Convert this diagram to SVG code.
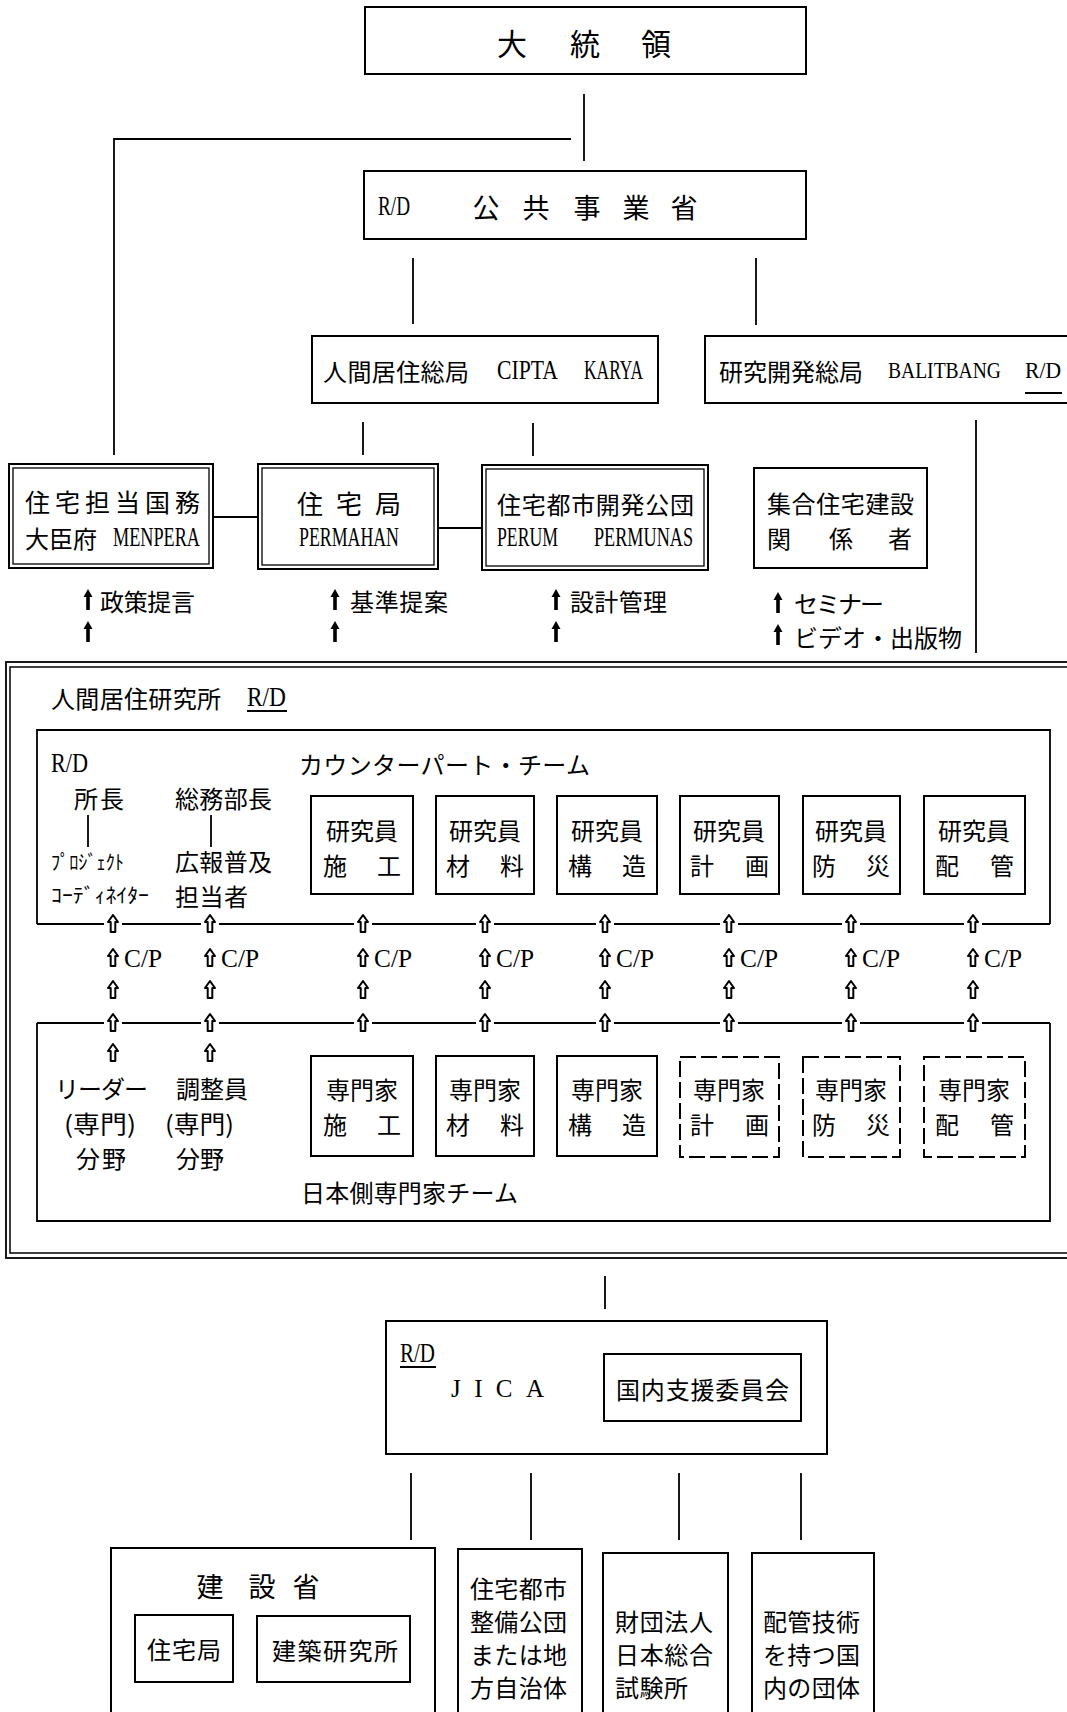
<svg xmlns="http://www.w3.org/2000/svg" xmlns:xlink="http://www.w3.org/1999/xlink" width="1067" height="1712" viewBox="0 0 1067 1712">
<style>
.box{fill:none;stroke:#000;stroke-width:2}
.in{fill:none;stroke:#000;stroke-width:1.3}
.dash{fill:none;stroke:#000;stroke-width:2;stroke-dasharray:16 5}
.ln{fill:none;stroke:#000;stroke-width:1.8}
.jp{font-family:"Noto Sans CJK JP",sans-serif;font-size:24px;fill:#000;dominant-baseline:central}
.lt{font-family:"Liberation Serif",serif;font-size:27px;fill:#000;dominant-baseline:central}
.cp{font-size:25px}
.sm{font-size:23px}
.mid{text-anchor:middle}
</style>
<defs>
<path id="ba" d="M0,-11 L4.5,-3 L1.8,-3 L1.8,10 L-1.8,10 L-1.8,-3 L-4.5,-3 Z" fill="#000"/>
<path id="wa" d="M0,-9 L5,-2 L2.3,-2 L2.3,8 L-2.3,8 L-2.3,-2 L-5,-2 Z" fill="#fff" stroke="#000" stroke-width="2" stroke-linejoin="round"/>
</defs>
<rect width="1067" height="1712" fill="#fff"/>

<g id="connectors">
<path class="ln" d="M584,94 V161 M571,139 H114 V455 M413,258 V324 M756,258 V325 M363,422 V455 M533,423 V456 M213,517 H258 M438,528 H482 M976,420 V653 M88,815 V847 M211,815 V847 M605,1276 V1309 M411,1473 V1540 M531,1473 V1540 M679,1473 V1540 M801,1473 V1540"/>
<use href="#ba" x="88" y="600"/><use href="#ba" x="88" y="632"/>
<use href="#ba" x="335" y="600"/><use href="#ba" x="335" y="632"/>
<use href="#ba" x="556" y="600"/><use href="#ba" x="556" y="632"/>
<use href="#ba" x="778" y="603"/><use href="#ba" x="778" y="635"/>
<path class="ln" d="M37,924 H104 M122,924 H201 M219,924 H354 M372,924 H476 M494,924 H596 M614,924 H720 M738,924 H842 M860,924 H964 M982,924 H1050"/>
<path class="ln" d="M37,1023 H104 M122,1023 H201 M219,1023 H354 M372,1023 H476 M494,1023 H596 M614,1023 H720 M738,1023 H842 M860,1023 H964 M982,1023 H1050"/>
<g id="cp-arrows">
<use href="#wa" x="113" y="924"/><use href="#wa" x="210" y="924"/><use href="#wa" x="363" y="924"/><use href="#wa" x="485" y="924"/><use href="#wa" x="605" y="924"/><use href="#wa" x="729" y="924"/><use href="#wa" x="851" y="924"/><use href="#wa" x="973" y="924"/>
<use href="#wa" x="113" y="958"/><use href="#wa" x="210" y="958"/><use href="#wa" x="363" y="958"/><use href="#wa" x="485" y="958"/><use href="#wa" x="605" y="958"/><use href="#wa" x="729" y="958"/><use href="#wa" x="851" y="958"/><use href="#wa" x="973" y="958"/>
<use href="#wa" x="113" y="990"/><use href="#wa" x="210" y="990"/><use href="#wa" x="363" y="990"/><use href="#wa" x="485" y="990"/><use href="#wa" x="605" y="990"/><use href="#wa" x="729" y="990"/><use href="#wa" x="851" y="990"/><use href="#wa" x="973" y="990"/>
<use href="#wa" x="113" y="1023"/><use href="#wa" x="210" y="1023"/><use href="#wa" x="363" y="1023"/><use href="#wa" x="485" y="1023"/><use href="#wa" x="605" y="1023"/><use href="#wa" x="729" y="1023"/><use href="#wa" x="851" y="1023"/><use href="#wa" x="973" y="1023"/>
<use href="#wa" x="113" y="1053"/><use href="#wa" x="210" y="1053"/>
</g>
<text class="lt cp" x="124" y="958" textLength="38" lengthAdjust="spacingAndGlyphs">C/P</text>
<text class="lt cp" x="221" y="958" textLength="38" lengthAdjust="spacingAndGlyphs">C/P</text>
<text class="lt cp" x="374" y="958" textLength="38" lengthAdjust="spacingAndGlyphs">C/P</text>
<text class="lt cp" x="496" y="958" textLength="38" lengthAdjust="spacingAndGlyphs">C/P</text>
<text class="lt cp" x="616" y="958" textLength="38" lengthAdjust="spacingAndGlyphs">C/P</text>
<text class="lt cp" x="740" y="958" textLength="38" lengthAdjust="spacingAndGlyphs">C/P</text>
<text class="lt cp" x="862" y="958" textLength="38" lengthAdjust="spacingAndGlyphs">C/P</text>
<text class="lt cp" x="984" y="958" textLength="38" lengthAdjust="spacingAndGlyphs">C/P</text>
<text class="jp" x="100" y="600" textLength="95">政策提言</text>
<text class="jp" x="350" y="600" textLength="98">基準提案</text>
<text class="jp" x="570" y="600" textLength="97">設計管理</text>
<text class="jp" x="794" y="602" textLength="90" lengthAdjust="spacing">セミナー</text>
<text class="jp" x="794" y="636" textLength="168">ビデオ・出版物</text>
</g>

<g id="president">
<rect class="box" x="365" y="7" width="441" height="67"/>
<text class="jp mid" style="font-size:30px" x="512 585 656" y="42">大統領</text>
</g>

<g id="public-works">
<rect class="box" x="364" y="171" width="442" height="68"/>
<text class="lt" x="378" y="206" textLength="32" lengthAdjust="spacingAndGlyphs">R/D</text>
<text class="jp mid" style="font-size:27px" x="486 536 587 636 684" y="206">公共事業省</text>
</g>

<g id="cipta-karya">
<rect class="box" x="312" y="336" width="346" height="67"/>
<text class="jp" x="323" y="370" textLength="146">人間居住総局</text>
<text class="lt" x="497" y="370" textLength="61" lengthAdjust="spacingAndGlyphs">CIPTA</text>
<text class="lt" x="584" y="370" textLength="59" lengthAdjust="spacingAndGlyphs">KARYA</text>
</g>

<g id="balitbang">
<rect class="box" x="705" y="336" width="380" height="67"/>
<text class="jp" x="719" y="370" textLength="144">研究開発総局</text>
<text class="lt sm" x="888" y="370" textLength="113" lengthAdjust="spacingAndGlyphs">BALITBANG</text>
<text class="lt sm" x="1025" y="370" textLength="36" lengthAdjust="spacingAndGlyphs">R/D</text>
<path class="ln" d="M1025,393 H1062"/>
</g>

<g id="menpera">
<rect class="box" x="9" y="464" width="204" height="104"/>
<rect class="in" x="13" y="468" width="196" height="96"/>
<text class="jp" style="font-size:25px" x="25" y="501" textLength="175" lengthAdjust="spacing">住宅担当国務</text>
<text class="jp" x="25" y="537" textLength="72" lengthAdjust="spacingAndGlyphs">大臣府</text>
<text class="lt" x="113" y="537" textLength="87" lengthAdjust="spacingAndGlyphs">MENPERA</text>
</g>

<g id="permahan">
<rect class="box" x="258" y="464" width="180" height="105"/>
<rect class="in" x="262" y="468" width="172" height="97"/>
<text class="jp mid" style="font-size:26px" x="310 349 388" y="502">住宅局</text>
<text class="lt" x="299" y="537" textLength="100" lengthAdjust="spacingAndGlyphs">PERMAHAN</text>
</g>

<g id="perumnas">
<rect class="box" x="482" y="465" width="226" height="105"/>
<rect class="in" x="486" y="469" width="218" height="97"/>
<text class="jp" x="497" y="503" textLength="197">住宅都市開発公団</text>
<text class="lt" x="497" y="537" textLength="61" lengthAdjust="spacingAndGlyphs">PERUM</text>
<text class="lt" x="594" y="537" textLength="99" lengthAdjust="spacingAndGlyphs">PERMUNAS</text>
</g>

<g id="apartment-stakeholders">
<rect class="box" x="754" y="468" width="173" height="100"/>
<text class="jp" x="767" y="502" textLength="147">集合住宅建設</text>
<text class="jp mid" x="779 841 900" y="537">関係者</text>
</g>

<g id="research-institute">
<rect class="in" x="6" y="662" width="1075" height="596" style="stroke-width:1.8"/>
<rect class="in" x="10" y="667" width="1075" height="586" style="stroke-width:1.5"/>
<text class="jp" x="51" y="697" textLength="170">人間居住研究所</text>
<text class="lt" x="247" y="697" textLength="39" lengthAdjust="spacingAndGlyphs">R/D</text>
<path class="ln" d="M247,711 H287"/>
</g>

<g id="counterpart-team">
<path class="ln" d="M37,924 V730 H1050 V924"/>
<text class="lt" x="51" y="763" textLength="37" lengthAdjust="spacingAndGlyphs">R/D</text>
<text class="jp" x="299" y="763" textLength="291">カウンターパート・チーム</text>
<text class="jp" x="74" y="797" textLength="50">所長</text>
<text class="jp" x="175" y="797" textLength="97">総務部長</text>
<text class="jp" x="51" y="861" style="font-size:20px" textLength="73" lengthAdjust="spacingAndGlyphs">ﾌﾟﾛｼﾞｪｸﾄ</text>
<text class="jp" x="51" y="894" style="font-size:20px" textLength="98" lengthAdjust="spacingAndGlyphs">ｺｰﾃﾞｨﾈｲﾀｰ</text>
<text class="jp" x="175" y="860" textLength="97">広報普及</text>
<text class="jp" x="175" y="895" textLength="73">担当者</text>
</g>

<g id="cp-construction"><rect class="box" x="311" y="796" width="102" height="98"/><text class="jp mid" x="362" y="829">研究員</text><text class="jp mid" x="335 389" y="864">施工</text></g>
<g id="cp-materials"><rect class="box" x="436" y="796" width="98" height="98"/><text class="jp mid" x="485" y="829">研究員</text><text class="jp mid" x="458 512" y="864">材料</text></g>
<g id="cp-structure"><rect class="box" x="557" y="796" width="100" height="98"/><text class="jp mid" x="607" y="829">研究員</text><text class="jp mid" x="580 634" y="864">構造</text></g>
<g id="cp-planning"><rect class="box" x="680" y="796" width="99" height="98"/><text class="jp mid" x="729" y="829">研究員</text><text class="jp mid" x="702 757" y="864">計画</text></g>
<g id="cp-disaster"><rect class="box" x="803" y="796" width="97" height="98"/><text class="jp mid" x="851" y="829">研究員</text><text class="jp mid" x="824 878" y="864">防災</text></g>
<g id="cp-piping"><rect class="box" x="924" y="796" width="101" height="98"/><text class="jp mid" x="974" y="829">研究員</text><text class="jp mid" x="947 1002" y="864">配管</text></g>

<g id="japan-expert-team">
<path class="ln" d="M37,1023 V1221 H1050 V1023"/>
<text class="jp" x="55" y="1087" textLength="93" lengthAdjust="spacing">リーダー</text>
<text class="jp" x="64" y="1122" textLength="72" lengthAdjust="spacingAndGlyphs">(専門)</text>
<text class="jp" x="76" y="1157" textLength="50">分野</text>
<text class="jp" x="176" y="1087" textLength="72">調整員</text>
<text class="jp" x="165" y="1122" textLength="69" lengthAdjust="spacingAndGlyphs">(専門)</text>
<text class="jp" x="176" y="1157" textLength="48">分野</text>
<text class="jp" x="301" y="1191" textLength="217">日本側専門家チーム</text>
</g>

<g id="ex-construction"><rect class="box" x="311" y="1056" width="102" height="100"/><text class="jp mid" x="362" y="1088">専門家</text><text class="jp mid" x="335 389" y="1123">施工</text></g>
<g id="ex-materials"><rect class="box" x="436" y="1056" width="98" height="100"/><text class="jp mid" x="485" y="1088">専門家</text><text class="jp mid" x="458 512" y="1123">材料</text></g>
<g id="ex-structure"><rect class="box" x="557" y="1056" width="100" height="100"/><text class="jp mid" x="607" y="1088">専門家</text><text class="jp mid" x="580 634" y="1123">構造</text></g>
<g id="ex-planning"><rect class="dash" x="680" y="1057" width="99" height="100"/><text class="jp mid" x="729" y="1088">専門家</text><text class="jp mid" x="702 757" y="1123">計画</text></g>
<g id="ex-disaster"><rect class="dash" x="803" y="1057" width="97" height="100"/><text class="jp mid" x="851" y="1088">専門家</text><text class="jp mid" x="824 878" y="1123">防災</text></g>
<g id="ex-piping"><rect class="dash" x="924" y="1057" width="101" height="100"/><text class="jp mid" x="974" y="1088">専門家</text><text class="jp mid" x="947 1002" y="1123">配管</text></g>

<g id="jica">
<rect class="box" x="386" y="1321" width="441" height="133"/>
<text class="lt" x="400" y="1353" textLength="35" lengthAdjust="spacingAndGlyphs">R/D</text>
<path class="ln" d="M400,1367 H436"/>
<text class="lt" style="font-size:25px" x="451" y="1388" textLength="93" lengthAdjust="spacing">JICA</text>
</g>
<g id="support-committee">
<rect class="box" x="604" y="1354" width="197" height="67"/>
<text class="jp" x="616" y="1388" textLength="173">国内支援委員会</text>
</g>

<g id="moc">
<rect class="box" x="111" y="1548" width="324" height="190"/>
<text class="jp mid" style="font-size:27px" x="210 262 306" y="1585">建設省</text>
</g>
<g id="moc-housing"><rect class="box" x="135" y="1615" width="98" height="67"/><text class="jp" x="147" y="1648" textLength="74">住宅局</text></g>
<g id="moc-bri"><rect class="box" x="257" y="1616" width="153" height="66"/><text class="jp" x="272" y="1649" textLength="126">建築研究所</text></g>
<g id="housing-corp">
<rect class="box" x="458" y="1549" width="124" height="190"/>
<text class="jp" x="470" y="1587" textLength="97">住宅都市</text>
<text class="jp" x="470" y="1620" textLength="97">整備公団</text>
<text class="jp" x="470" y="1653" textLength="97">または地</text>
<text class="jp" x="470" y="1686" textLength="97">方自治体</text>
</g>
<g id="jtccm">
<rect class="box" x="603" y="1553" width="125" height="186"/>
<text class="jp" x="615" y="1620" textLength="98">財団法人</text>
<text class="jp" x="615" y="1653" textLength="98">日本総合</text>
<text class="jp" x="615" y="1686" textLength="73">試験所</text>
</g>
<g id="piping-orgs">
<rect class="box" x="752" y="1553" width="122" height="186"/>
<text class="jp" x="763" y="1620" textLength="97">配管技術</text>
<text class="jp" x="763" y="1653" textLength="97">を持つ国</text>
<text class="jp" x="763" y="1686" textLength="97">内の団体</text>
</g>
</svg>
